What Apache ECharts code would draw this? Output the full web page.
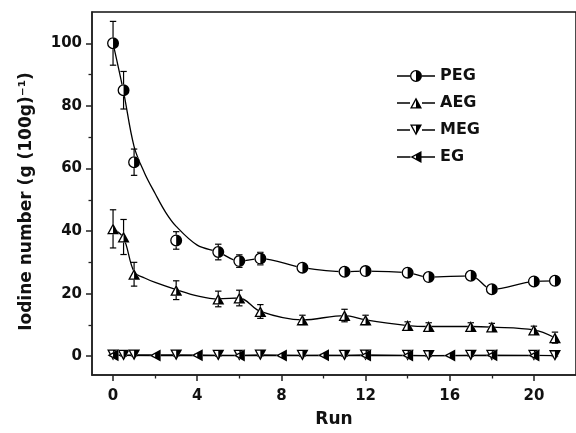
<!DOCTYPE html>
<html><head><meta charset="utf-8">
<script src="https://cdn.jsdelivr.net/npm/echarts@6/dist/echarts.min.js"></script>
<style>html,body{margin:0;padding:0;background:#fff}#c{width:576px;height:433px}</style>
</head><body><div id="c"></div>
<script>
// ---- data ----
const runPEG = [0,0.5,1,3,5,6,7,9,11,12,14,15,17,18,20,21];
const valPEG = [100,85,62,37,33.3,30.4,31.2,28.3,27.0,27.2,26.7,25.3,25.7,21.4,23.9,24.1];
const errPEG = [7,6,4.2,2.8,2.5,2,2,1.2,1.2,1.2,1.2,1.2,1.2,1.2,1.2,1.2];

const runAEG = [0,0.5,1,3,5,6,7,9,11,12,14,15,17,18,20,21];
const valAEG = [40.7,38.1,26.2,21.1,18.3,18.6,14.3,11.6,13.0,11.6,9.8,9.5,9.5,9.3,8.4,5.9];
const errAEG = [6.1,5.6,3.8,3,2.5,2.5,2.2,1.5,2,1.5,1.2,1.2,1.2,1.2,1.2,1.8];

const runMEG = [0,0.5,1,3,5,6,7,9,11,12,14,15,17,18,20,21];
const valMEG = [0.4,0.3,0.4,0.4,0.3,0.3,0.4,0.3,0.3,0.4,0.3,0.2,0.3,0.3,0.3,0.2];
const errMEG = [0.4,0.3,0.3,0.3,0.3,0.3,0.3,0.3,0.3,0.3,0.3,0.3,0.3,0.3,0.3,0.3];

const runEG = [0,2,4,6,8,10,12,14,16,18,20];
const valEG = [0.3,0.2,0.3,0.2,0.2,0.3,0.2,0.2,0.2,0.3,0.2];
const errEG = [0.3,0.3,0.3,0.3,0.3,0.3,0.3,0.3,0.3,0.3,0.3];

// fitted / guide curves
const fitRunPEG = [0,0.5,1,1.5,2,2.5,3,4,5,6,7,9,11,12,14,15,17,18,20,21];
const fitValPEG = [100,84.5,67,58.5,52,46,41.5,35.5,33.3,30.4,31.2,28.3,27.0,27.2,26.7,25.3,25.7,21.4,23.9,24.1];
const fitRunAEG = [0,0.5,1,1.5,2,3,4,5,6,7,9,11,12,14,15,17,18,20,21];
const fitValAEG = [40.7,37.8,27,25,23.6,21.3,19.3,18.3,18.6,14.3,11.6,13.0,11.6,9.8,9.5,9.5,9.3,8.4,5.9];

const xMajor = [0,4,8,12,16,20];
const xMinor = [2,6,10,14,18];
const yMajor = [0,20,40,60,80,100];
const yMinor = [10,30,50,70,90];

const seriesNames = ['PEG','AEG','MEG','EG'];
const kinds = {PEG:'circle', AEG:'up', MEG:'down', EG:'left'};

// ---- marker geometry (outline + right half filled) ----
function f(n){return Math.round(n*1000)/1000;}
function outerPath(kind, ox, oy, w, h){
  const cx = ox + w/2, cy = oy + h/2;
  if(kind==='circle'){const r=w/2;
    return `M${f(cx)},${f(cy-r)}A${f(r)},${f(r)} 0 1 1 ${f(cx)},${f(cy+r)}A${f(r)},${f(r)} 0 1 1 ${f(cx)},${f(cy-r)}Z`;}
  if(kind==='up') return `M${f(cx)},${f(oy)}L${f(ox+w)},${f(oy+h)}L${f(ox)},${f(oy+h)}Z`;
  if(kind==='down') return `M${f(ox)},${f(oy)}L${f(ox+w)},${f(oy)}L${f(cx)},${f(oy+h)}Z`;
  return `M${f(ox)},${f(cy)}L${f(ox+w)},${f(oy)}L${f(ox+w)},${f(oy+h)}Z`;
}
function holePath(kind, ox, oy, w, h, t){
  const cx = ox + w/2, cy = oy + h/2;
  if(kind==='circle'){const ri=w/2-t;
    return `M${f(cx)},${f(cy-ri)}A${f(ri)},${f(ri)} 0 0 0 ${f(cx)},${f(cy+ri)}Z`;}
  if(kind==='up'||kind==='down'){
    const a=w/2, hx=t*Math.sqrt(a*a+h*h)/h;
    const dy = hx*h/a;
    const xl = cx - a*(h-t)/h + hx;
    if(kind==='up') return `M${f(cx)},${f(oy+dy)}L${f(xl)},${f(oy+h-t)}L${f(cx)},${f(oy+h-t)}Z`;
    return `M${f(xl)},${f(oy+t)}L${f(cx)},${f(oy+h-dy)}L${f(cx)},${f(oy+t)}Z`;
  }
  const b=h/2, hy=t*Math.sqrt(b*b+w*w)/w;
  const xa = ox + hy*w/b, xm = ox + w/2;
  return `M${f(xa)},${f(cy)}L${f(xm)},${f(cy+b/2-hy)}L${f(xm)},${f(cy-b/2+hy)}Z`;
}
function markerSize(kind){
  if(kind==='circle') return [12,12];
  if(kind==='left') return [11,12];
  return [12,11];
}
function legendIcon(kind){
  const W=38, H=12, lt=1.3;
  const [mw,mh] = markerSize(kind);
  const ox=(W-mw)/2, oy=(H-mh)/2;
  const y0=H/2-lt/2, y1=H/2+lt/2;
  const l1=`M0,${f(y0)}L${f(ox)},${f(y0)}L${f(ox)},${f(y1)}L0,${f(y1)}Z`;
  const l2=`M${f(ox+mw)},${f(y0)}L${W},${f(y0)}L${W},${f(y1)}L${f(ox+mw)},${f(y1)}Z`;
  let extra='';
  if(mh<H) extra=`M${f(ox+mw/2)},0L${f(ox+mw/2+0.01)},0L${f(ox+mw/2)},0.01Z M${f(ox+mw/2)},${H}L${f(ox+mw/2+0.01)},${H}L${f(ox+mw/2)},${H-0.01}Z`;
  return 'path://' + l1 + l2 + outerPath(kind,ox,oy,mw,mh) + holePath(kind,ox,oy,mw,mh,1.3) + extra;
}

function toPts(xs, ys, es){ return xs.map((x,i)=> es ? [x, ys[i], es[i]] : [x, ys[i]]); }

function markerSeries(name, xs, ys, es){
  const kind = kinds[name];
  const [mw,mh] = markerSize(kind);
  const outer = outerPath(kind,0,0,mw,mh);
  const full = outer + holePath(kind,0,0,mw,mh,1.3);
  return {
    name, type:'custom', z:5,
    itemStyle:{color:'#000'},
    data: toPts(xs, ys, es),
    encode:{x:0,y:1},
    renderItem(params, api){
      const x=api.value(0), y=api.value(1), e=api.value(2);
      const p=api.coord([x,y]), pt=api.coord([x,y+e]), pb=api.coord([x,y-e]);
      const cap=3.2;
      const ls={stroke:'#000', lineWidth:1.2};
      return {type:'group', children:[
        {type:'line', shape:{x1:p[0],y1:pt[1],x2:p[0],y2:pb[1]}, style:ls},
        {type:'line', shape:{x1:p[0]-cap,y1:pt[1],x2:p[0]+cap,y2:pt[1]}, style:ls},
        {type:'line', shape:{x1:p[0]-cap,y1:pb[1],x2:p[0]+cap,y2:pb[1]}, style:ls},
        {type:'path', shape:{pathData:outer, x:p[0]-mw/2, y:p[1]-mh/2, width:mw, height:mh}, style:{fill:'#fff'}},
        {type:'path', shape:{pathData:full, x:p[0]-mw/2, y:p[1]-mh/2, width:mw, height:mh}, style:{fill:'#000'}}
      ]};
    }
  };
}
function lineSeries(name, xs, ys, smooth){
  return {name, type:'line', z:2, data: toPts(xs, ys), showSymbol:false, symbol:'none',
    smooth: smooth, lineStyle:{color:'#000', width:1.3}, silent:true};
}

const font = 'DejaVu Sans';
const chart = echarts.init(document.getElementById('c'), null, {renderer:'canvas'});
chart.setOption({
  animation:false,
  backgroundColor:'#fff',
  grid:{left:92, right:-8, top:12, bottom:55, show:true, borderColor:'#111', borderWidth:1.5, backgroundColor:'transparent'},
  legend:{
    orient:'vertical', left:397, top:68, padding:0, itemWidth:38, itemHeight:12, itemGap:11,
    data: seriesNames.map(n=>({name:n, icon: legendIcon(kinds[n])})),
    itemStyle:{color:'#000', borderWidth:0},
    textStyle:{fontFamily:font, fontWeight:'bold', fontSize:16, color:'#111'}
  },
  xAxis:[{
    type:'value', min:-1, max:22, position:'bottom',
    name:'Run', nameLocation:'middle', nameGap:36,
    nameTextStyle:{fontFamily:font, fontWeight:'bold', fontSize:17, color:'#111'},
    axisLine:{show:true, onZero:false, lineStyle:{color:'#222', width:1.5}},
    axisTick:{show:true, inside:false, length:6, customValues:xMajor, lineStyle:{color:'#222', width:1.5}},
    axisLabel:{customValues:xMajor, margin:14, fontFamily:font, fontWeight:'bold', fontSize:15, color:'#111'},
    splitLine:{show:false}
  },{
    type:'value', min:-1, max:22, position:'bottom', offset:0,
    axisLine:{show:false, onZero:false},
    axisTick:{show:true, inside:false, length:3.5, customValues:xMinor, lineStyle:{color:'#222', width:1.3}},
    axisLabel:{show:false}, splitLine:{show:false}
  }],
  yAxis:[{
    type:'value', min:-6, max:110, position:'left',
    name:'Iodine number (g (100g)⁻¹)', nameLocation:'middle', nameGap:57,
    nameTextStyle:{fontFamily:font, fontWeight:'bold', fontSize:17, color:'#111', padding:[0,16,0,0]},
    axisLine:{show:true, onZero:false, lineStyle:{color:'#222', width:1.5}},
    axisTick:{show:true, inside:false, length:6, customValues:yMajor, lineStyle:{color:'#222', width:1.5}},
    axisLabel:{customValues:yMajor, margin:10, fontFamily:font, fontWeight:'bold', fontSize:15, color:'#111'},
    splitLine:{show:false}
  },{
    type:'value', min:-6, max:110, position:'left', offset:0,
    axisLine:{show:false, onZero:false},
    axisTick:{show:true, inside:false, length:3.5, customValues:yMinor, lineStyle:{color:'#222', width:1.3}},
    axisLabel:{show:false}, splitLine:{show:false}
  }],
  series:[
    lineSeries('PEG curve', fitRunPEG, fitValPEG, 0.35),
    lineSeries('AEG curve', fitRunAEG, fitValAEG, 0.35),
    lineSeries('MEG line', runMEG, valMEG, false),
    lineSeries('EG line', runEG, valEG, false),
    markerSeries('PEG', runPEG, valPEG, errPEG),
    markerSeries('AEG', runAEG, valAEG, errAEG),
    markerSeries('MEG', runMEG, valMEG, errMEG),
    markerSeries('EG', runEG, valEG, errEG)
  ]
});
</script></body></html>
